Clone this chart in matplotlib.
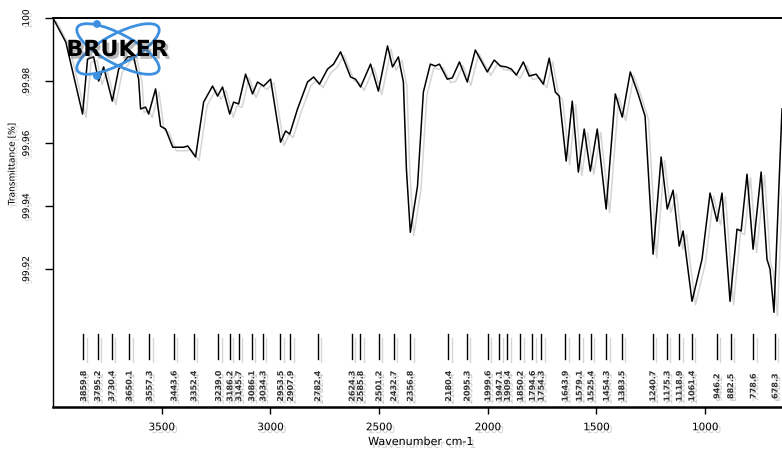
import matplotlib
matplotlib.use("Agg")
import matplotlib.pyplot as plt
import matplotlib.patheffects as pe
from matplotlib.patches import Ellipse, Circle

# IR transmittance spectrum (wavenumber in cm-1, transmittance in %)
wavenumber = [4000, 3941, 3864, 3841, 3813, 3790, 3767, 3727, 3698, 3656, 3629, 3606,
              3597, 3574, 3560, 3528, 3505, 3482, 3449, 3399, 3380, 3344, 3307, 3266,
              3243, 3220, 3187, 3169, 3146, 3114, 3082, 3059, 3031, 2999, 2953, 2930,
              2911, 2875, 2829, 2801, 2774, 2737, 2709, 2677, 2654, 2631, 2608, 2585,
              2539, 2503, 2461, 2438, 2411, 2388, 2374, 2356, 2323, 2296, 2264, 2241,
              2222, 2186, 2163, 2130, 2094, 2057, 2002, 1970, 1942, 1914, 1891, 1868,
              1836, 1809, 1777, 1744, 1717, 1689, 1671, 1639, 1611, 1583, 1556, 1528,
              1496, 1455, 1413, 1381, 1344, 1308, 1276, 1239, 1202, 1174, 1147, 1119,
              1101, 1060, 1014, 977, 945, 922, 885, 853, 834, 807, 779, 742, 715, 701,
              683, 646]
transmittance = [100.0, 99.9923, 99.9694, 99.9869, 99.9876, 99.9799, 99.9844, 99.9735,
                 99.9837, 99.9876, 99.9876, 99.9805, 99.9710, 99.9716, 99.9694, 99.9774,
                 99.9655, 99.9646, 99.9588, 99.9588, 99.9592, 99.9557, 99.9732, 99.9783,
                 99.9751, 99.9780, 99.9694, 99.9732, 99.9726, 99.9821, 99.9758, 99.9796,
                 99.9783, 99.9805, 99.9604, 99.9640, 99.9630, 99.9710, 99.9796, 99.9812,
                 99.9789, 99.9837, 99.9853, 99.9892, 99.9853, 99.9812, 99.9805, 99.9780,
                 99.9853, 99.9767, 99.9911, 99.9844, 99.9876, 99.9796, 99.9518, 99.9317,
                 99.9464, 99.9764, 99.9853, 99.9847, 99.9853, 99.9805, 99.9809, 99.9860,
                 99.9796, 99.9898, 99.9828, 99.9866, 99.9847, 99.9844, 99.9837, 99.9818,
                 99.9860, 99.9815, 99.9821, 99.9789, 99.9872, 99.9764, 99.9751, 99.9544,
                 99.9735, 99.9509, 99.9646, 99.9512, 99.9646, 99.9391, 99.9758, 99.9684,
                 99.9828, 99.9758, 99.9687, 99.9247, 99.9557, 99.9391, 99.9451, 99.9273,
                 99.9321, 99.9097, 99.9231, 99.9442, 99.9352, 99.9442, 99.9097, 99.9327,
                 99.9321, 99.9502, 99.9263, 99.9509, 99.9231, 99.9199, 99.9062, 99.9710]

# Picked peak positions (cm-1)
peaks = [3859.8, 3795.2, 3730.4, 3650.1, 3557.3, 3443.6, 3352.4, 3239.0, 3186.2,
         3145.7, 3086.1, 3034.3, 2953.5, 2907.9, 2782.4, 2624.3, 2585.8, 2501.2,
         2432.7, 2356.8, 2180.4, 2095.3, 1999.6, 1947.1, 1909.4, 1850.2, 1794.6,
         1754.3, 1643.9, 1579.1, 1525.4, 1454.3, 1383.5, 1240.7, 1175.3, 1118.9,
         1061.4, 946.2, 882.5, 778.6, 678.3]

x_ticks = [3500, 3000, 2500, 2000, 1500, 1000]
y_ticks = [99.92, 99.94, 99.96, 99.98, 100.0]
y_tick_labels = ["99.92", "99.94", "99.96", "99.98", "100"]

W, H = 782, 456
fig = plt.figure(figsize=(W / 100, H / 100), dpi=100)
fig.patch.set_facecolor("white")

ax = fig.add_axes([53 / W, 1 - 408 / H, 1 - 53 / W, (408 - 19) / H])
ax.set_xlim(4000, 646)
ax.set_ylim(99.876, 100.0)

line_shadow = [pe.SimpleLineShadow(offset=(2.5, -2.5), shadow_color="#888888", alpha=0.35),
               pe.Normal()]
text_shadow = [pe.withSimplePatchShadow(offset=(2, -2), shadow_rgbFace="#777777", alpha=0.35)]

ax.plot(wavenumber, transmittance, color="black", lw=1.1, path_effects=line_shadow)

# peak markers and labels
for p in peaks:
    ax.plot([p, p], [99.8992, 99.8913], color="black", lw=1.0, path_effects=line_shadow)
    ax.text(p, 99.8826, f"{p:.1f}", rotation=90, ha="center", va="center",
            fontsize=5.8, fontweight="bold", color="#333333", path_effects=text_shadow)

ax.spines["right"].set_visible(False)
ax.spines["top"].set_linewidth(1.4)
ax.spines["left"].set_linewidth(1.0)
ax.spines["bottom"].set_linewidth(1.8)

ax.set_xticks(x_ticks)
ax.set_xticklabels([str(t) for t in x_ticks])
ax.set_yticks(y_ticks)
ax.set_yticklabels(y_tick_labels)
ax.tick_params(axis="x", direction="out", length=5, width=1, labelsize=7.5, pad=6)
ax.tick_params(axis="y", direction="out", length=6, width=1, labelsize=6.5, pad=10,
               labelrotation=90)
for lab in ax.get_yticklabels():
    lab.set_va("center")
    lab.set_path_effects(text_shadow)
for lab in ax.get_xticklabels():
    lab.set_path_effects(text_shadow)

fig.text(421 / W, 1 - 443 / H, "Wavenumber cm-1", ha="center", va="center",
         fontsize=8, path_effects=text_shadow)
fig.text(12 / W, 1 - 165 / H, "Transmittance [%]", rotation=90, ha="center",
         va="center", fontsize=6.5, path_effects=text_shadow)

# Bruker logo
logo = fig.add_axes([50 / W, 1 - 85 / H, 135 / W, 70 / H])
logo.set_xlim(50, 185)
logo.set_ylim(85, 15)
logo.axis("off")
logo.patch.set_alpha(0)
blue = "#3d8fe0"
for ang in (28, -28):
    logo.add_patch(Ellipse((118, 50), 92, 30, angle=ang, fill=False, ec=blue, lw=2.0))
logo.add_patch(Circle((97, 25), 3.2, color=blue))
logo.add_patch(Circle((97, 77), 3.2, color=blue))
logo.text(117, 51, "BRUKER", ha="center", va="center", fontsize=16,
          fontweight="heavy", color="black",
          path_effects=[pe.withSimplePatchShadow(offset=(2, -2), shadow_rgbFace="#555555",
                                                 alpha=0.4)])

fig.savefig("out.png", dpi=100, facecolor="white")
